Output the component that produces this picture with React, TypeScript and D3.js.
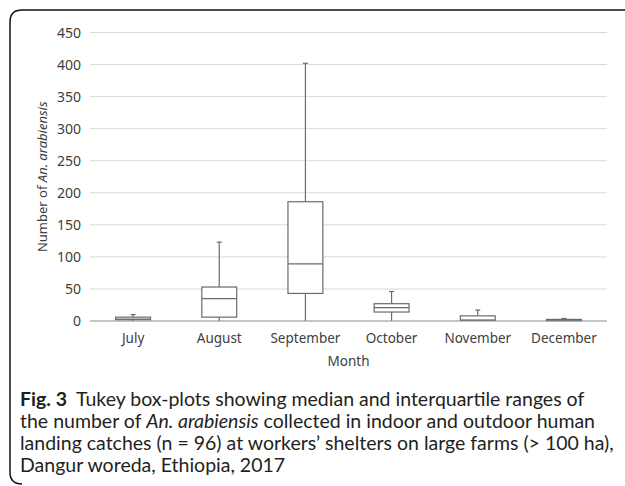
import React from 'react';
import * as d3 from 'd3';

const months = ['July', 'August', 'September', 'October', 'November', 'December'];
const whiskerLow = [0, 0, 0, 0, 0, 0];
const q1 = [2, 6, 43, 14, 1, 0.5];
const median = [3, 35, 89, 21, 1.5, 1];
const q3 = [6, 53, 186, 27, 8, 2.5];
const whiskerHigh = [10, 123, 402, 46, 17, 4];
const yTicks = [0, 50, 100, 150, 200, 250, 300, 350, 400, 450];

const W = 625;
const H = 486;
const plot = { left: 90, right: 607, top: 32.5, bottom: 321 };
const tickFont = '"Noto Sans", "Open Sans", sans-serif';
const capFont = 'Lato, "Open Sans", sans-serif';

export default function App() {
  const x = d3.scaleBand<string>().domain(months).range([plot.left, plot.right]);
  const y = d3.scaleLinear().domain([0, 450]).range([plot.bottom, plot.top]);
  const boxW = x.bandwidth() * 0.405;
  const capW = 5;
  const boxStroke = '#6b6b6b';

  // frame: rounded corner top-left and bottom-left
  const r = 12;
  const frame = `M ${W} 10 L ${10 + r} 10 Q 10 10 10 ${10 + r} L 10 ${H - 2 - r} Q 10 ${H - 2} ${10 + r} ${H - 2}`;

  return (
    <svg width={W} height={H} style={{ position: 'absolute', left: 0, top: 0, background: '#fff' }}>
      <rect width={W} height={H} fill="#fff" />
      <path d={frame} fill="none" stroke="#111" strokeWidth={1.5} />

      {/* gridlines */}
      {yTicks.filter(t => t > 0).map(t => (
        <line key={t} x1={plot.left} x2={plot.right} y1={y(t)} y2={y(t)} stroke="#d9d9d9" strokeWidth={1} />
      ))}
      {yTicks.map(t => (
        <text key={'l' + t} x={81} y={y(t)} dy="0.36em" textAnchor="end" fontFamily={tickFont} fontSize={14} fill="#404040">
          {t}
        </text>
      ))}

      {/* boxes */}
      {months.map((m, i) => {
        const cx = (x(m) || 0) + x.bandwidth() / 2;
        return (
          <g key={m} stroke={boxStroke} strokeWidth={1.2} fill="none">
            <line x1={cx} x2={cx} y1={y(q3[i])} y2={y(whiskerHigh[i])} />
            <line x1={cx - capW / 2} x2={cx + capW / 2} y1={y(whiskerHigh[i])} y2={y(whiskerHigh[i])} />
            <line x1={cx} x2={cx} y1={y(whiskerLow[i])} y2={y(q1[i])} />
            <rect x={cx - boxW / 2} y={y(q3[i])} width={boxW} height={y(q1[i]) - y(q3[i])} fill="#fff" />
            <line x1={cx - boxW / 2} x2={cx + boxW / 2} y1={y(median[i])} y2={y(median[i])} />
          </g>
        );
      })}

      {/* x axis */}
      <line x1={plot.left} x2={plot.right} y1={plot.bottom} y2={plot.bottom} stroke="#8c8c8c" strokeWidth={1.2} />
      {months.map(m => (
        <text key={m} x={(x(m) || 0) + x.bandwidth() / 2} y={343} textAnchor="middle" fontFamily={tickFont} fontSize={13.5} fill="#404040">
          {m}
        </text>
      ))}
      <text x={(plot.left + plot.right) / 2} y={366} textAnchor="middle" fontFamily={tickFont} fontSize={13.5} fill="#404040">
        Month
      </text>
      <text transform={`translate(47,${(plot.top + plot.bottom) / 2}) rotate(-90)`} textAnchor="middle" fontFamily={tickFont} fontSize={13} fill="#404040">
        Number of <tspan fontStyle="italic">An. arabiensis</tspan>
      </text>

      {/* caption */}
      <g fontFamily={capFont} fontSize={19.5} fill="#231f20">
        <text x={20} y={406}>
          <tspan fontWeight="bold">Fig. 3</tspan>
          <tspan dx={9}>Tukey box-plots showing median and interquartile ranges of</tspan>
        </text>
        <text x={20} y={428}>
          the number of <tspan fontStyle="italic">An. arabiensis</tspan> collected in indoor and outdoor human
        </text>
        <text x={20} y={450}>
          landing catches (n = 96) at workers’ shelters on large farms (&gt; 100 ha),
        </text>
        <text x={20} y={472}>
          Dangur woreda, Ethiopia, 2017
        </text>
      </g>
    </svg>
  );
}
